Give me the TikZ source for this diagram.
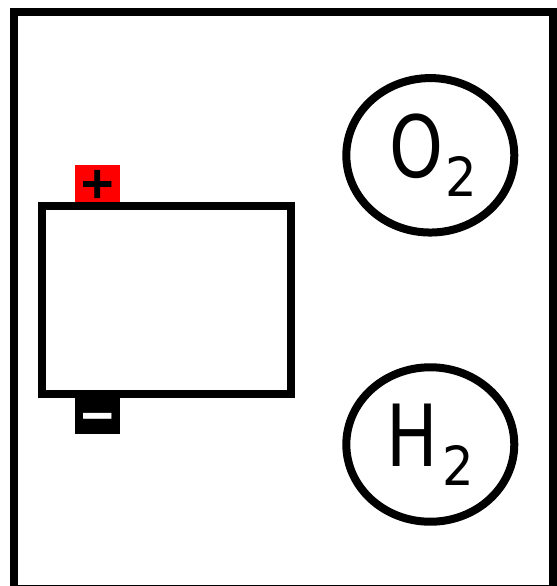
\documentclass[tikz,border=0pt]{standalone}
\usepackage{fontspec}
\usepackage{tikz}
\usetikzlibrary{shapes.geometric}
\newfontfamily\gasfont[FakeStretch=0.8]{DejaVu Sans}
\newfontfamily\subfont[FakeStretch=0.92]{DejaVu Sans}
\newfontfamily\signfont[FakeBold=1.6]{DejaVu Sans Bold}
\definecolor{termred}{HTML}{FF0000}

\begin{document}
\begin{tikzpicture}[x=0.02cm, y=-0.02cm,
    every node/.style={inner sep=0pt, outer sep=0pt},
    box/.style={draw, black, line width=0.16cm, rectangle},
    gas/.style={draw, black, line width=0.16cm, ellipse, minimum width=3.36cm, minimum height=3.09cm,
      font=\gasfont\fontsize{48.8}{50}\selectfont},
    term/.style={rectangle, minimum width=0.9cm, minimum height=0.76cm,
      font=\signfont\fontsize{25}{26}\selectfont}]
      \useasboundingbox (0,0) rectangle (557,586);

      % Outer frame
      \node[box, minimum width=10.78cm, minimum height=11.54cm] (frame) at (283.5,300.5) {};

      % Terminals
      \node[term, fill=termred, text=black] (plusterm) at (97.3,184) {+};
      \node[term, fill=black, text=white] (minusterm) at (97.3,415) {\raisebox{-0.29cm}[0pt][0pt]{−}};

      % Battery
      \node[box, minimum width=4.98cm, minimum height=3.76cm] (battery) at (166.5,300) {};

      % Gases
      \node[gas] (oxygen) at (430.3,155.3) {\kern0.1cm O\kern0.04cm\raisebox{-0.39cm}{\subfont\fontsize{30.7}{31}\selectfont 2}};
      \node[gas] (hydrogen) at (430.3,444.5) {H\kern0.1cm\raisebox{-0.39cm}{\subfont\fontsize{30.7}{31}\selectfont 2}};
    \end{tikzpicture}
\end{document}
